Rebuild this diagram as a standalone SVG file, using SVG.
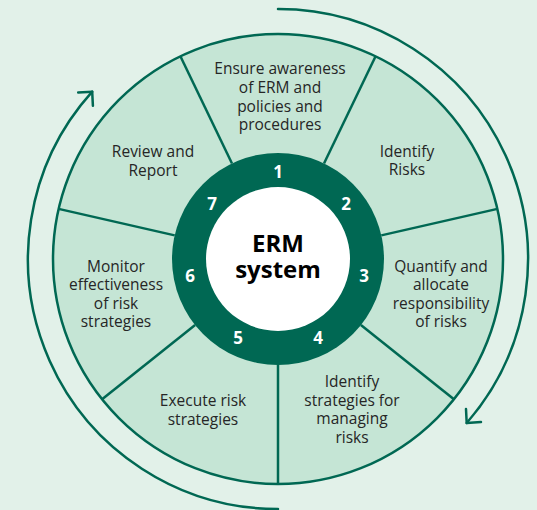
<svg xmlns="http://www.w3.org/2000/svg" width="537" height="510" viewBox="0 0 537 510">
  <style>
    .seg { fill: #c5e5d5; stroke: #006853; stroke-width: 2.5; }
    .div { stroke: #006853; stroke-width: 2.5; fill: none; }
    .flow { stroke: #006853; stroke-width: 2.5; fill: none; stroke-linecap: round; stroke-linejoin: round; }
    .lbl { font-family: "Open Sans", "Noto Sans", sans-serif; font-size: 15.5px; fill: #262626; text-anchor: middle; }
    .num { font-family: "Open Sans", "Noto Sans", sans-serif; font-size: 17px; font-weight: 700; fill: #ffffff; text-anchor: middle; }
    .core { font-family: "Open Sans", "Noto Sans", sans-serif; font-size: 24px; font-weight: 700; fill: #000000; text-anchor: middle; }
  </style>

  <rect width="537" height="510" fill="#e2f1e9"/>

  <!-- cycle arrows around the wheel -->
  <g id="cycle-arrows">
    <path class="flow" d="M278,9 A250,250 0 0 1 466.7,423"/>
    <path class="flow" d="M466,409 L466.7,423 L481,422"/>
    <path class="flow" d="M278,509 A250,250 0 0 1 92.2,91.7"/>
    <path class="flow" d="M78.2,92.4 L92.2,91.7 L92.9,105.7"/>
  </g>

  <!-- outer wheel -->
  <g id="wheel">
    <circle class="seg" cx="278" cy="259" r="225"/>
  </g>

  <!-- segment dividers -->
  <g id="dividers">
    <line class="div" x1="232" y1="163.5" x2="180.4" y2="56.3"/>
    <line class="div" x1="324" y1="163.5" x2="375.6" y2="56.3"/>
    <line class="div" x1="381.3" y1="235.4" x2="497.4" y2="208.9"/>
    <line class="div" x1="360.9" y1="325.1" x2="453.9" y2="399.3"/>
    <line class="div" x1="278" y1="365" x2="278" y2="484"/>
    <line class="div" x1="195.1" y1="325.1" x2="102.1" y2="399.3"/>
    <line class="div" x1="174.7" y1="235.4" x2="58.6" y2="208.9"/>
  </g>

  <!-- hub -->
  <g id="hub">
    <circle cx="278" cy="259" r="106" fill="#006853"/>
    <circle cx="278" cy="259" r="72" fill="#ffffff"/>
    <text class="core" x="278" y="252">ERM</text>
    <text class="core" x="278" y="278">system</text>
  </g>

  <g id="step-1">
    <text class="num" x="278" y="178">1</text>
    <text class="lbl" x="280" y="74">Ensure awareness</text>
    <text class="lbl" x="280" y="93">of ERM and</text>
    <text class="lbl" x="280" y="111.5">policies and</text>
    <text class="lbl" x="280" y="130">procedures</text>
  </g>

  <g id="step-2">
    <text class="num" x="346" y="210">2</text>
    <text class="lbl" x="407" y="157">Identify</text>
    <text class="lbl" x="407" y="175">Risks</text>
  </g>

  <g id="step-3">
    <text class="num" x="364" y="282">3</text>
    <text class="lbl" x="441" y="272">Quantify and</text>
    <text class="lbl" x="441" y="290">allocate</text>
    <text class="lbl" x="441" y="308.5">responsibility</text>
    <text class="lbl" x="441" y="327">of risks</text>
  </g>

  <g id="step-4">
    <text class="num" x="318" y="344">4</text>
    <text class="lbl" x="352" y="387">Identify</text>
    <text class="lbl" x="352" y="405.5">strategies for</text>
    <text class="lbl" x="352" y="424">managing</text>
    <text class="lbl" x="352" y="442.5">risks</text>
  </g>

  <g id="step-5">
    <text class="num" x="238" y="344">5</text>
    <text class="lbl" x="203" y="406">Execute risk</text>
    <text class="lbl" x="203" y="424.5">strategies</text>
  </g>

  <g id="step-6">
    <text class="num" x="190" y="282">6</text>
    <text class="lbl" x="116" y="272">Monitor</text>
    <text class="lbl" x="116" y="290">effectiveness</text>
    <text class="lbl" x="116" y="308.5">of risk</text>
    <text class="lbl" x="116" y="327">strategies</text>
  </g>

  <g id="step-7">
    <text class="num" x="212" y="210">7</text>
    <text class="lbl" x="153" y="157">Review and</text>
    <text class="lbl" x="153" y="175.5">Report</text>
  </g>
</svg>
